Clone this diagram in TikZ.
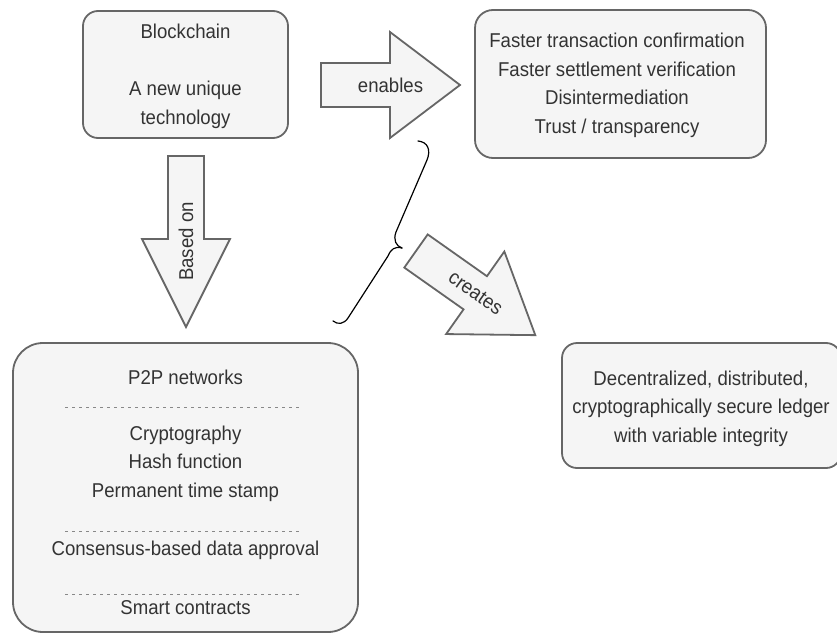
\documentclass[tikz,border=0pt]{standalone}
\usepackage{fontspec}
\setmainfont[FakeStretch=0.93]{Liberation Sans}
\definecolor{boxfill}{HTML}{F5F5F5}
\definecolor{boxline}{HTML}{666666}
\definecolor{ink}{HTML}{333333}
\definecolor{sepline}{HTML}{888888}

% Block arrow: #1 label name, #2 tail centre, #3 direction angle, #4 length,
% #5 shaft half-width, #6 head half-width, #7 head length, #8 label angle, #9 label
\newcommand\blockarrow[9]{%
  \begin{scope}[shift={#2}, rotate=#3]
    \draw[blockarrow] (0,-#5) -- ({#4-#7},-#5) -- ({#4-#7},-#6) -- (#4,0)
      -- ({#4-#7},#6) -- ({#4-#7},#5) -- (0,#5) -- cycle;
    \node[txt, rotate=#8] (#1) at ({#4/2},0) {#9};
  \end{scope}}

\begin{document}
\begin{tikzpicture}[x=1pt, y=-1pt,
  box/.style={draw=boxline, fill=boxfill, line width=1.8pt, rounded corners=15pt, inner sep=0pt},
  txt/.style={text=ink, font=\fontsize{20}{28.5}\selectfont, align=center, inner sep=0pt},
  blockarrow/.style={draw=boxline, fill=boxfill, line width=1.8pt, line join=miter},
  sepline/.style={draw=sepline, line width=1pt, dash pattern=on 3pt off 4pt},
  brace/.style={draw=black, line width=1.2pt, line cap=round, line join=round}]

\useasboundingbox (0,0) rectangle (837,634);
\clip (0,0) rectangle (837,634);

% Blockchain
\node[box, minimum width=205pt, minimum height=127pt] (chain) at (185.5,74.5) {};
\node[txt] (chaintxt) at (185.5,76.5) {Blockchain\\ \\A new unique\\technology};

% Benefits
\node[box, rounded corners=18pt, minimum width=291pt, minimum height=148pt] (benefits) at (620.5,84) {};
\node[txt] (benefitstxt) at (617,85.5) {Faster transaction confirmation\\Faster settlement verification\\Disintermediation\\Trust / transparency};

% Building blocks
\node[box, rounded corners=30pt, minimum width=345pt, minimum height=289pt] (base) at (185.5,487.5) {};
\node[txt] (p2p)  at (185.5,377) {P2P networks};
\node[txt] (crypto) at (185.5,463.5) {Cryptography\\Hash function\\Permanent time stamp};
\node[txt] (cons) at (185.5,550) {Consensus-based data approval};
\node[txt] (smart) at (185.5,608) {Smart contracts};
\coordinate (s1a) at (65,407);  \coordinate (s1b) at (302,407);
\coordinate (s2a) at (65,531);  \coordinate (s2b) at (302,531);
\coordinate (s3a) at (65,594);  \coordinate (s3b) at (302,594);
\draw[sepline] (s1a) -- (s1b);
\draw[sepline] (s2a) -- (s2b);
\draw[sepline] (s3a) -- (s3b);

% Ledger
\node[box, minimum width=279pt, minimum height=125pt] (ledger) at (701.5,405.5) {};
\node[txt] (ledgertxt) at (701,408.5) {Decentralized, distributed,\\cryptographically secure ledger\\with variable integrity};

% Block arrows
\blockarrow{enables}{(321,85)}{0}{139}{22}{53}{70}{0}{enables}
\blockarrow{basedon}{(186,156)}{-90}{171}{18}{44}{88}{90}{Based on}
\blockarrow{creates}{(416,251)}{-35.2}{146}{20.3}{50.5}{73.5}{-35.2}{creates}

% Curly brace
\draw[brace] (418,141) .. controls (428,142) and (431,150) .. (427,160)
  -- (396,232) .. controls (393,240) and (396,246) .. (402,248);
\draw[brace] (402,248) .. controls (395,246) and (391,249) .. (388,256)
  -- (348,318) .. controls (344,324) and (338,325) .. (333,321);
\end{tikzpicture}
\end{document}
